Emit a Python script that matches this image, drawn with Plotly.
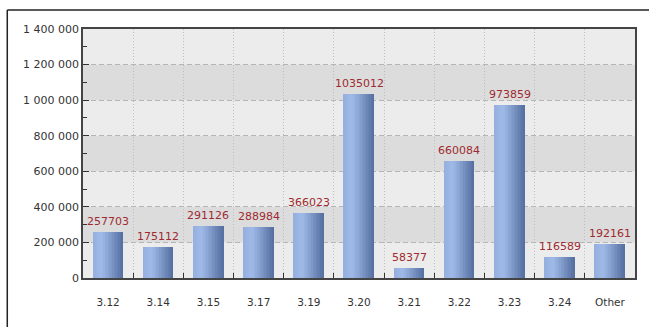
import plotly.graph_objects as go

categories = ["3.12", "3.14", "3.15", "3.17", "3.19", "3.20", "3.21", "3.22", "3.23", "3.24", "Other"]
values = [257703, 175112, 291126, 288984, 366023, 1035012, 58377, 660084, 973859, 116589, 192161]
y_ticks = [0, 200000, 400000, 600000, 800000, 1000000, 1200000, 1400000]

xs = list(range(len(categories)))

def lerp(c1, c2, t):
    return tuple(int(round(a + (b - a) * t)) for a, b in zip(c1, c2))

stops = [(0.0, (148, 175, 222)), (0.3, (160, 186, 232)), (1.0, (84, 110, 160))]

def grad(t):
    for (p0, c0), (p1, c1) in zip(stops[:-1], stops[1:]):
        if p0 <= t <= p1:
            return lerp(c0, c1, (t - p0) / (p1 - p0))
    return stops[-1][1]

fig = go.Figure()
N = 20
bw = 0.6
sw = bw / N
for i in range(N):
    c = grad((i + 0.5) / N)
    fig.add_trace(go.Bar(
        x=xs, y=values, width=sw * 1.05, offset=-bw / 2 + i * sw,
        marker=dict(color="rgb(%d,%d,%d)" % c, line=dict(width=0)),
        showlegend=False, hoverinfo="skip"))

annotations = [dict(x=x, y=v, xref="x", yref="y", text=str(v), showarrow=False,
                    yanchor="bottom", xanchor="center", yshift=2,
                    font=dict(family="DejaVu Sans", size=11, color="#9e2a2f"))
               for x, v in zip(xs, values)]

shapes = []
for k in range(len(y_ticks) - 1):
    shapes.append(dict(type="rect", xref="paper", yref="y", x0=0, x1=1,
                       y0=y_ticks[k], y1=y_ticks[k + 1],
                       fillcolor="#ececec" if k % 2 == 0 else "#dcdcdc",
                       line=dict(width=0), layer="below"))
# outer frame (left and top lines)
shapes.append(dict(type="line", xref="paper", yref="paper",
                   x0=-76/554, x1=-76/554, y0=(29-10)/249 + 1, y1=-1, line=dict(color="#222", width=1.5)))
shapes.append(dict(type="line", xref="paper", yref="paper",
                   x0=-76/554, x1=1.1, y0=(29-10)/249 + 1, y1=(29-10)/249 + 1, line=dict(color="#222", width=1.5)))

fig.update_layout(
    width=649, height=327,
    margin=dict(l=83, r=12, t=29, b=49),
    paper_bgcolor="white", plot_bgcolor="#ececec",
    separators=". ",
    barmode="overlay", bargap=0,
    shapes=shapes, annotations=annotations,
    font=dict(family="DejaVu Sans", size=11, color="#333"),
    xaxis=dict(
        range=[-0.5, len(categories) - 0.5],
        tickmode="array", tickvals=xs, ticktext=categories,
        ticks="", showgrid=False, zeroline=False,
        showline=True, linecolor="#444", linewidth=1.5, mirror=True,
        tickfont=dict(size=10.5, color="#333"),
        ticklabelstandoff=14,
        minor=dict(tickmode="array", tickvals=[x + 0.5 for x in xs[:-1]],
                   ticks="inside", ticklen=5, tickcolor="#333",
                   showgrid=True, gridcolor="#bdbdbd", griddash="1px,2px", gridwidth=1),
    ),
    yaxis=dict(
        range=[0, 1400000], tickvals=y_ticks, tickformat=",d",
        ticks="inside", ticklen=6, tickcolor="#333",
        showgrid=True, gridcolor="#b5b5b5", griddash="5px,3px", gridwidth=1,
        zeroline=False,
        showline=True, linecolor="#444", linewidth=1.5, mirror=True,
        tickfont=dict(size=11, color="#333"),
        minor=dict(dtick=100000, ticks="inside", ticklen=4, tickcolor="#333", showgrid=False),
    ),
)

fig.write_html("out.html")
